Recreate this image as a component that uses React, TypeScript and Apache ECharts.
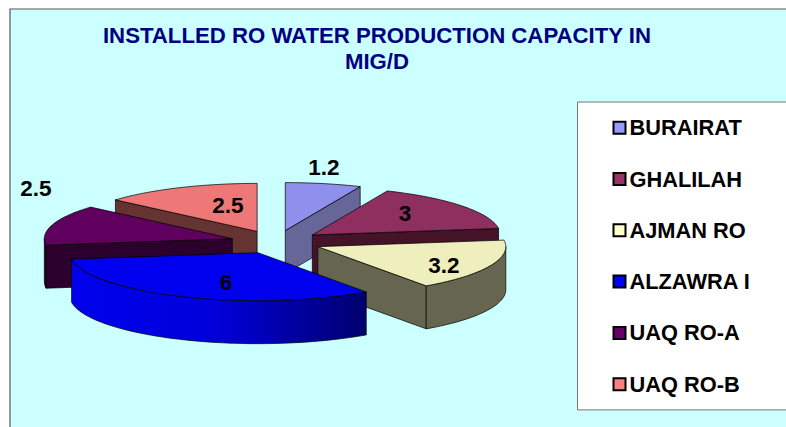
import React, { useEffect, useRef } from "react";
import * as echarts from "echarts";

const TITLE = "INSTALLED RO WATER PRODUCTION CAPACITY IN\nMIG/D";
const NAMES = ["BURAIRAT", "GHALILAH", "AJMAN RO", "ALZAWRA I", "UAQ RO-A", "UAQ RO-B"];
const VALUES = [1.2, 3, 3.2, 6, 2.5, 2.5];

// Styling and layout, kept apart from the data
const LEGEND_COLORS = ["#9999FF", "#993366", "#FFFFCC", "#0000FF", "#660066", "#FF8080"];
const TOP_COLORS = ["#8F8FEE", "#8F2F5F", "#EFEFBE", "#0000EE", "#5F005F", "#EE7777"];
const SIDE_COLORS = ["#666699", "#441328", "#666650", "#000080", "#2C002C", "#663333"];
const PAINT_Z = [3, 5, 6, 7, 4, 2];
const LABEL_POS = [[324, 167], [405, 213], [444, 265], [226, 282], [36, 188], [228, 205]];
const CX = 276;
const CY = 242;
const RX = 188;
const RY = 48;
const DEPTH = 43;
const EXPLODE = 0.2425;
const FONT = "'Liberation Sans', Arial, sans-serif";

const TOTAL = VALUES.reduce((a, b) => a + b, 0);
const rad = (d: number) => (d * Math.PI) / 180;

function renderSlice(index: number) {
  return (_params: any, api: any) => {
    const value = api.value(0);
    const before = VALUES.slice(0, index).reduce((a, b) => a + b, 0);
    const a1 = (before / TOTAL) * 360;
    const a2 = a1 + (value / TOTAL) * 360;
    const mid = rad((a1 + a2) / 2);
    const ox = CX + Math.sin(mid) * RX * EXPLODE;
    const oy = CY - Math.cos(mid) * RY * EXPLODE;
    const pt = (deg: number, dz = 0) => [
      ox + Math.sin(rad(deg)) * RX,
      oy - Math.cos(rad(deg)) * RY + dz,
    ];
    const arc = (from: number, to: number, dz = 0) => {
      const n = Math.max(2, Math.ceil(Math.abs(to - from) / 2));
      const out: number[][] = [];
      for (let i = 0; i <= n; i++) out.push(pt(from + ((to - from) * i) / n, dz));
      return out;
    };
    const apex = [ox, oy];
    const apexLow = [ox, oy + DEPTH];
    const side = SIDE_COLORS[index];
    const line = { stroke: "#000000", lineWidth: 0.7 };
    const children: any[] = [];
    const face = (points: number[][], fill: any) =>
      children.push({ type: "polygon", shape: { points }, style: { fill, ...line } });

    if (Math.sin(rad(a1)) < -0.001) face([apex, pt(a1), pt(a1, DEPTH), apexLow], side);
    if (Math.sin(rad(a2)) > 0.001) face([apex, pt(a2), pt(a2, DEPTH), apexLow], side);
    const w1 = Math.max(a1, 90);
    const w2 = Math.min(a2, 270);
    if (w2 > w1) {
      const fill =
        index === 3
          ? new echarts.graphic.LinearGradient(0, 0, 1, 0, [
              { offset: 0, color: "#0000EE" },
              { offset: 0.5, color: "#0000D8" },
              { offset: 1, color: "#00006E" },
            ])
          : side;
      face([...arc(w1, w2), ...arc(w2, w1, DEPTH)], fill);
    }
    face([apex, ...arc(a1, a2)], TOP_COLORS[index]);
    children.push({
      type: "text",
      style: {
        text: String(value),
        x: LABEL_POS[index][0],
        y: LABEL_POS[index][1],
        align: "center",
        verticalAlign: "middle",
        fill: "#000000",
        font: `bold 22.5px ${FONT}`,
      },
    });
    return { type: "group", children };
  };
}

export default function App() {
  const ref = useRef<HTMLDivElement>(null);
  useEffect(() => {
    const chart = echarts.init(ref.current!, undefined, { renderer: "svg" });
    chart.setOption({
      animation: false,
      backgroundColor: "#FFFFFF",
      graphic: [
        {
          type: "rect",
          silent: true,
          shape: { x: 10, y: 9, width: 820, height: 460 },
          style: { fill: "#CCFFFF", stroke: "#555555", lineWidth: 1.2 },
        },
      ],
      title: {
        text: TITLE,
        left: 372,
        top: 17,
        textAlign: "center",
        textStyle: {
          color: "#000080",
          fontFamily: FONT,
          fontWeight: "bold",
          fontSize: 22.2,
          lineHeight: 26,
        },
      },
      legend: {
        orient: "vertical",
        left: 577.5,
        top: 102,
        z: 20,
        selectedMode: false,
        backgroundColor: "#FFFFFF",
        borderColor: "#777777",
        borderWidth: 1,
        padding: [14.7, 120, 14.7, 35],
        itemWidth: 12,
        itemHeight: 12,
        itemGap: 29.3,
        itemStyle: { borderWidth: 2 },
        textStyle: {
          color: "#000000",
          fontFamily: FONT,
          fontWeight: "bold",
          fontSize: 21.8,
          height: 22,
          lineHeight: 22,
          padding: [0, 0, 0, -1],
        },
        data: NAMES.map((name, i) => ({
          name,
          icon: "rect",
          itemStyle: { color: LEGEND_COLORS[i], borderColor: "#000000", borderWidth: 2 },
        })),
      },
      series: NAMES.map((name, i) => ({
        type: "custom",
        name,
        coordinateSystem: "none",
        z: PAINT_Z[i],
        silent: true,
        itemStyle: { color: LEGEND_COLORS[i] },
        data: [[VALUES[i]]],
        renderItem: renderSlice(i),
      })),
    });
    return () => chart.dispose();
  }, []);
  return <div ref={ref} style={{ position: "fixed", left: 0, top: 0, width: 786, height: 427 }} />;
}
